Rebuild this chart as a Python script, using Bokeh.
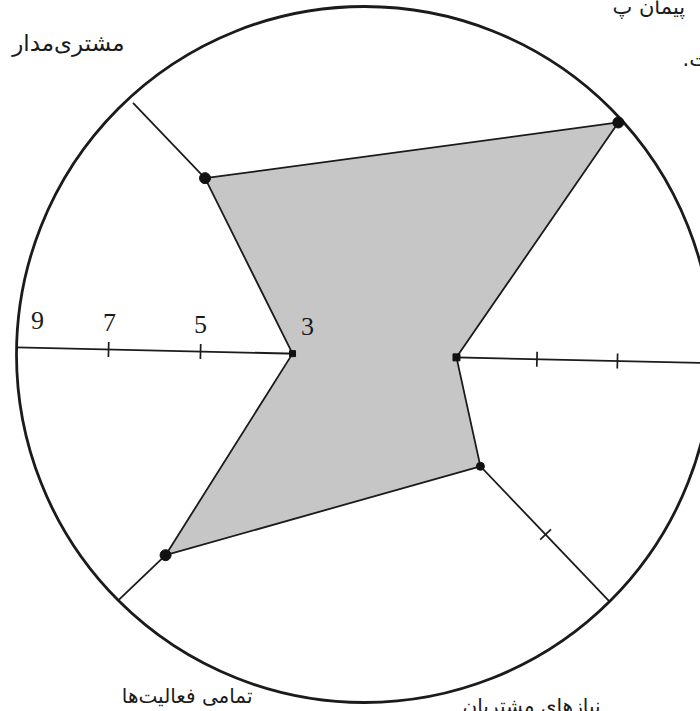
import math
from bokeh.plotting import figure
from bokeh.models import Range1d, ColumnDataSource
from bokeh.core.properties import value
from bokeh.embed import file_html
from bokeh.resources import INLINE

# ---------------- data ----------------
axis_angles = [0, 45, 135, 180, 225, 315]          # degrees, counter-clockwise from the right
scores = [3.0, 8.55, 6.55, 3.0, 7.5, 4.55]         # value on each axis
right_ticks = [4.75, 6.5]                          # tick marks on the right axis
left_ticks = [5, 7]                                # tick marks on the left axis
lower_right_ticks = [6.6]                          # tick mark on the lower-right axis
scale_values = [9, 7, 5, 3]                        # labelled values on the left axis
scale_labels = ["9", "7", "5", "3"]
page_texts = ["مشتری‌مدار", "پیمان پ", ".است", "تمامی فعالیت‌ها", "نیازهای مشتریان"]

# ---------------- layout / style ----------------
W, H = 700, 711
CX, CY = 374.0, 355.0          # centre of the axes (image px)
ROT = -1.3                     # slight rotation of the scanned drawing
VMIN, R0, K = 3.0, 82.0, 46.0  # radius = R0 + K*(v - VMIN)
CCX, CCY, CR = 364.0, 354.0, 348.0   # outer circle
INK = "#1b1b1b"


def polar(angle, v):
    r = R0 + K * (v - VMIN)
    a = math.radians(angle + ROT)
    return CX + r * math.cos(a), -(CY - r * math.sin(a))


def unit(angle):
    a = math.radians(angle + ROT)
    return math.cos(a), math.sin(a)


p = figure(width=W, height=H, output_backend="svg", toolbar_location=None,
           x_range=Range1d(0, W), y_range=Range1d(-H, 0),
           x_axis_location=None, y_axis_location=None, min_border=0,
           background_fill_color="white", border_fill_color="white")
p.grid.visible = False
p.outline_line_color = None

# outer circle
p.circle(x=[CCX], y=[-CCY], radius=CR, fill_color=None, line_color=INK, line_width=2.8)

# axes: from the centre to the outer circle
gaps = [0, 0, 6, 0, 0, 0]
x0s, y0s, x1s, y1s = [], [], [], []
for ang, g in zip(axis_angles, gaps):
    ux, uy = unit(ang)
    dx, dy = CX - CCX, -(CY - CCY)
    b = dx * ux + dy * uy
    c = dx * dx + dy * dy - CR * CR
    t = -b + math.sqrt(b * b - c) - g
    x0s.append(CX); y0s.append(-CY)
    x1s.append(CX + t * ux); y1s.append(-CY + t * uy)
p.segment(x0=x0s, y0=y0s, x1=x1s, y1=y1s, line_color=INK, line_width=1.8)

# tick marks
tx0, ty0, tx1, ty1 = [], [], [], []
for ang, ticks in [(0, right_ticks), (180, left_ticks), (315, lower_right_ticks)]:
    ux, uy = unit(ang)
    px, py = -uy, ux
    for v in ticks:
        x, y = polar(ang, v)
        tx0.append(x - 7.5 * px); ty0.append(y - 7.5 * py)
        tx1.append(x + 7.5 * px); ty1.append(y + 7.5 * py)
p.segment(x0=tx0, y0=ty0, x1=tx1, y1=ty1, line_color=INK, line_width=1.7)

# shaded profile polygon
pts = [polar(a, v) for a, v in zip(axis_angles, scores)]
p.patch(x=[q[0] for q in pts], y=[q[1] for q in pts], fill_color="#c6c6c6",
        line_color=INK, line_width=1.8)

# points
marker_sizes = [7, 11, 11, 6, 11, 8]
marker_kinds = ["square", "circle", "circle", "square", "circle", "circle"]
src = ColumnDataSource(dict(x=[q[0] for q in pts], y=[q[1] for q in pts],
                            size=marker_sizes, marker=marker_kinds))
p.scatter(x="x", y="y", size="size", marker="marker", source=src,
          fill_color="#111111", line_color="#111111")

# scale labels above the left axis
label_dx = [21, 1, 0, 15]
lx, ly = [], []
for v, dxo in zip(scale_values, label_dx):
    x, y = polar(180, v)
    lx.append(x + dxo); ly.append(y + 27)
p.text(x=lx, y=ly, text=scale_labels, text_font=value("Liberation Serif"),
       text_font_size="26px", text_align="center", text_baseline="middle",
       text_color=INK)

# fragments of the surrounding page text
fa = value("DejaVu Sans")
p.text(x=[124], y=[-42], text=[page_texts[0]], text_font=fa, text_font_size="23px",
       text_align="right", text_baseline="middle", text_color=INK)
p.text(x=[612], y=[-6], text=[page_texts[1]], text_font=fa, text_font_size="21px",
       text_align="left", text_baseline="alphabetic", text_color=INK)
p.text(x=[682], y=[-58], text=[page_texts[2]], text_font=fa, text_font_size="21px",
       text_align="left", text_baseline="middle", text_color=INK)
p.text(x=[252], y=[-695], text=[page_texts[3]], text_font=fa, text_font_size="20px",
       text_align="right", text_baseline="middle", text_color=INK)
p.text(x=[600], y=[-705], text=[page_texts[4]], text_font=fa, text_font_size="20px",
       text_align="right", text_baseline="middle", text_color=INK)

open("out.html", "w").write(file_html(p, INLINE))
